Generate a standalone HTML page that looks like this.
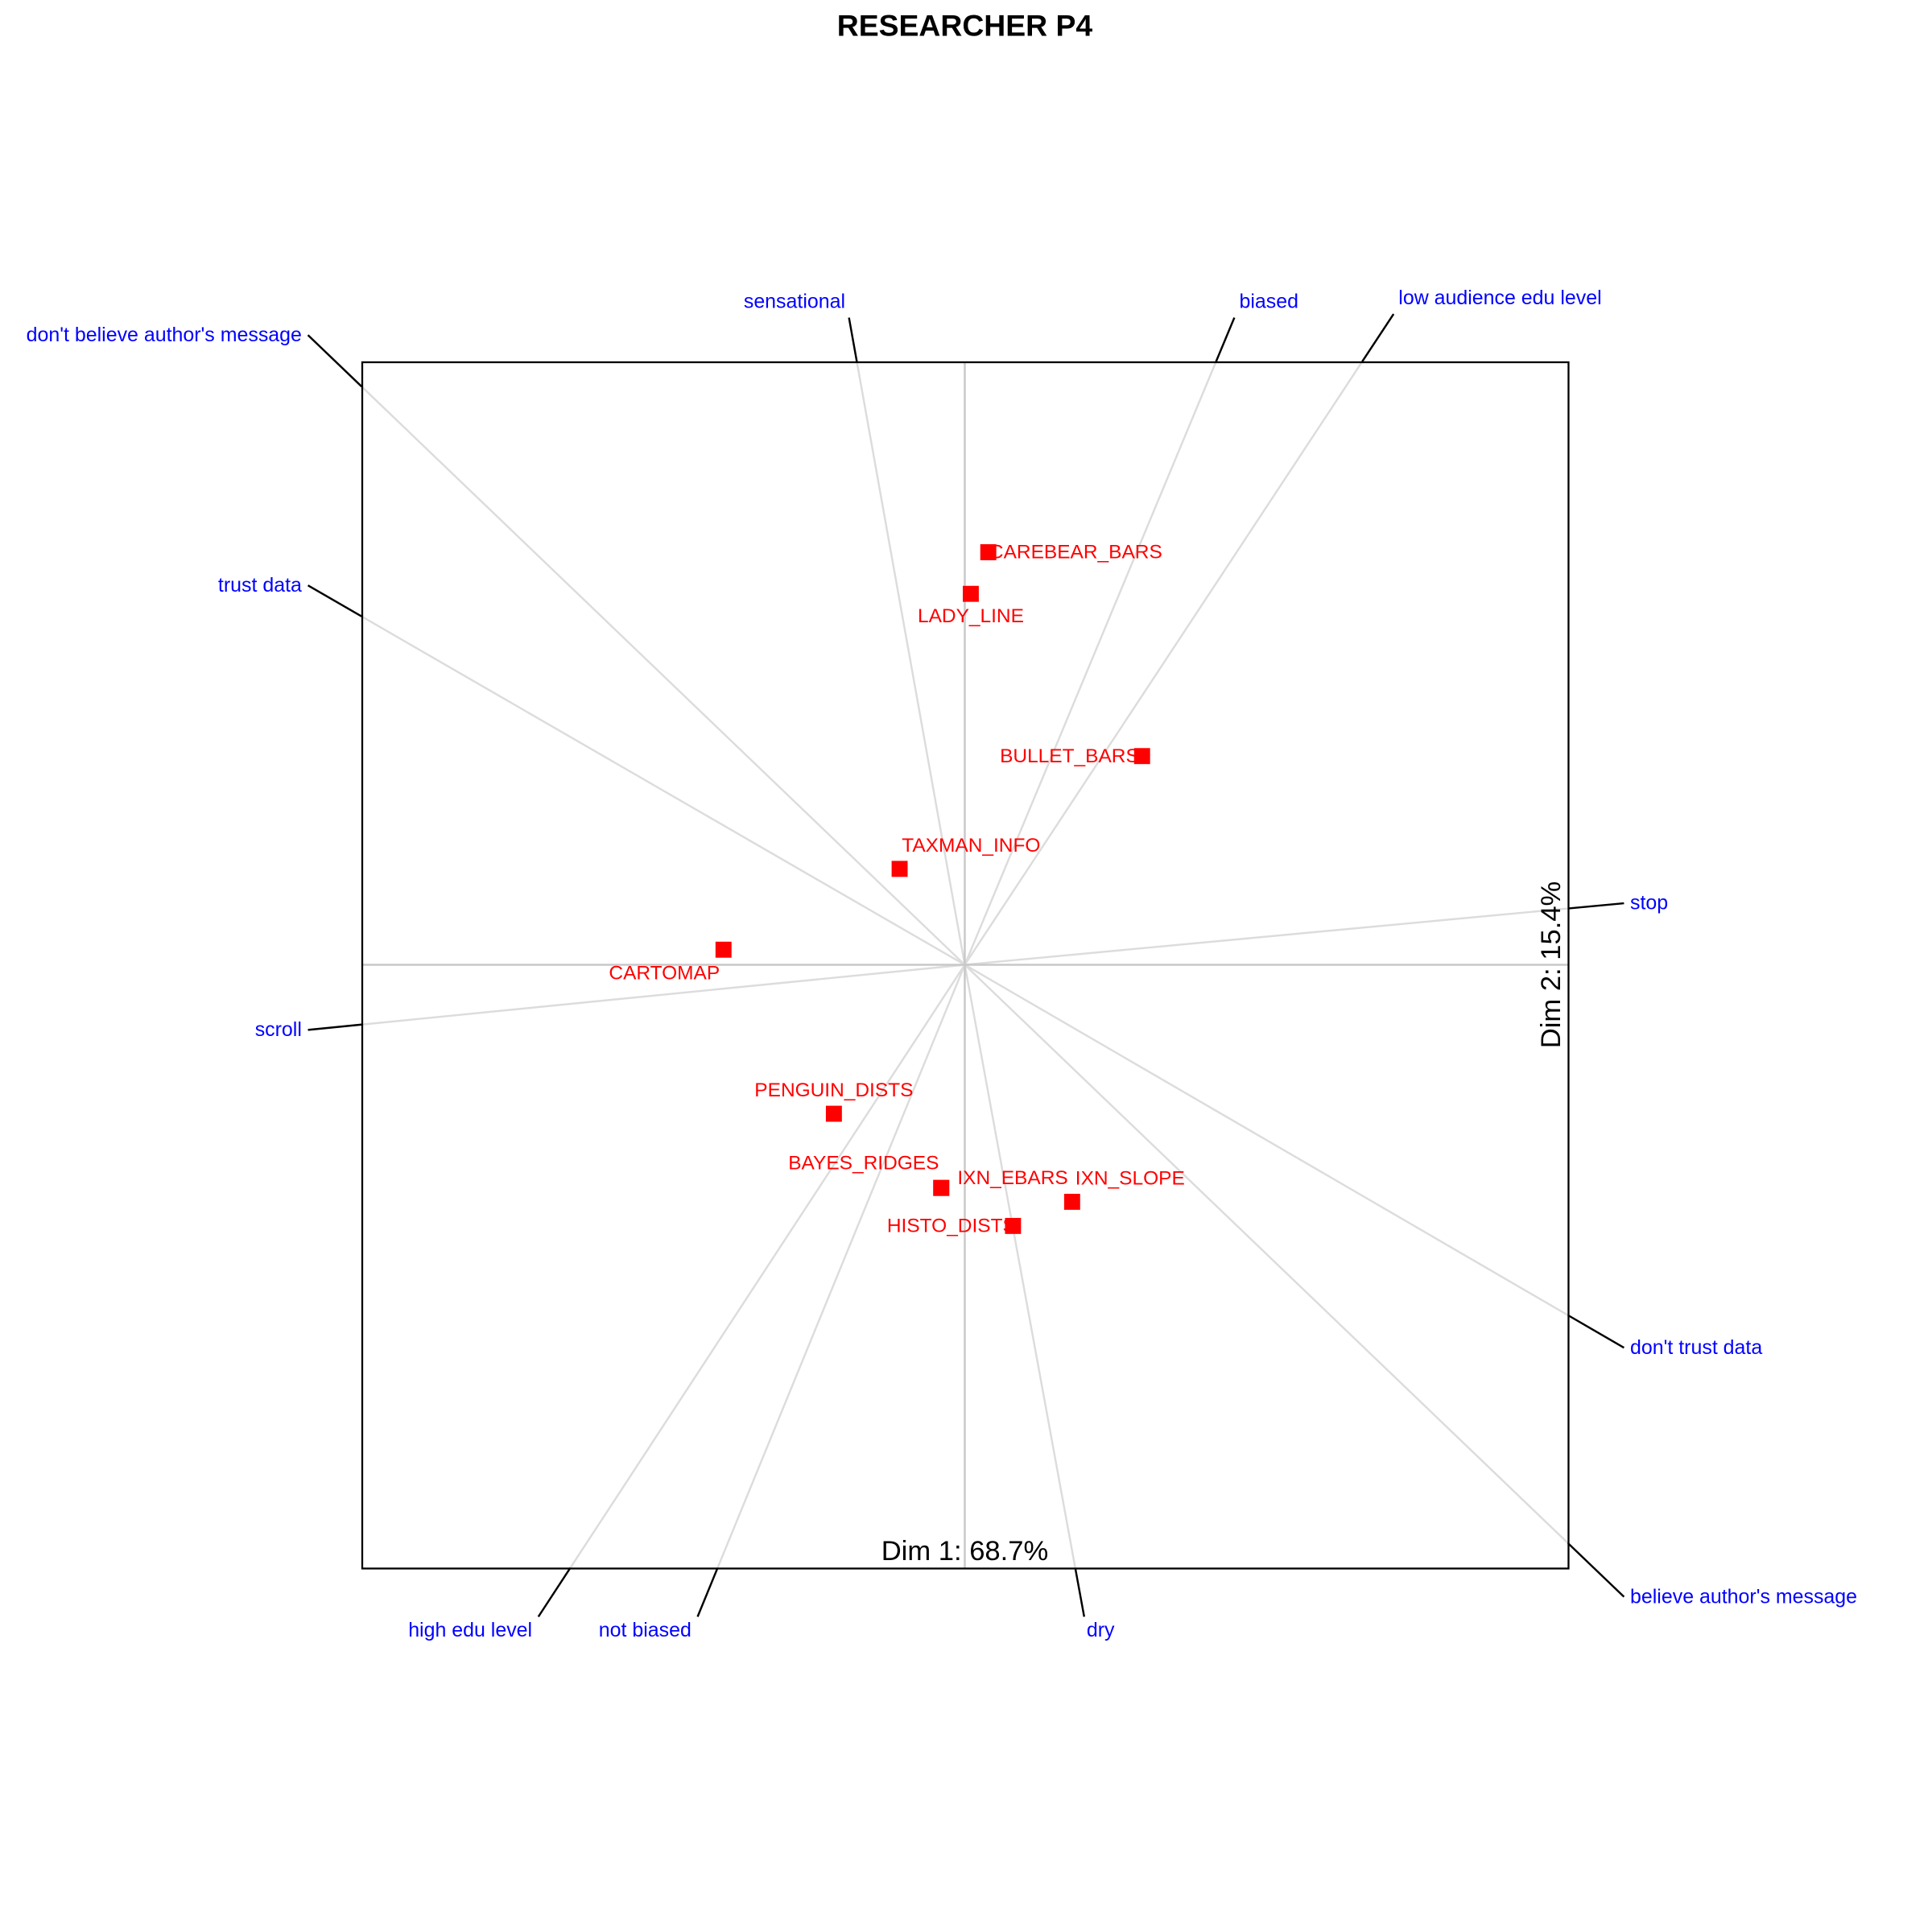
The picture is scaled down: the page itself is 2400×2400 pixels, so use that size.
<!DOCTYPE html>
<html><head><meta charset="utf-8"><style>
html,body{margin:0;padding:0;background:#fff}
svg{display:block}
text{font-family:"Liberation Sans",Arial,sans-serif}
</style></head><body>
<svg id="chart" width="2400" height="2400" viewBox="0 0 1568 1568" xmlns="http://www.w3.org/2000/svg">
<text x="783" y="29" text-anchor="middle" font-size="24.4" font-weight="bold">RESEARCHER P4</text>
<g id="arrows"></g>
<line x1="294" y1="783" x2="1273" y2="783" stroke="#c8c8c8" stroke-width="1.6"/>
<line x1="783" y1="294" x2="783" y2="1273" stroke="#c8c8c8" stroke-width="1.6"/>
<rect x="294" y="294" width="979" height="979" fill="none" stroke="#000" stroke-width="1.5"/>
<g id="points"></g>
<text x="783" y="1266" text-anchor="middle" font-size="22.6">Dim 1: 68.7%</text>
<text transform="translate(1266,783) rotate(-90)" text-anchor="middle" font-size="22.6">Dim 2: 15.4%</text>
</svg>
<script>
const pointNames = ["CAREBEAR_BARS","LADY_LINE","BULLET_BARS","TAXMAN_INFO","CARTOMAP","PENGUIN_DISTS","BAYES_RIDGES","IXN_EBARS","IXN_SLOPE","HISTO_DISTS"];
const pointX = [0.039,0.010,0.294,-0.108,-0.400,-0.217,-0.039,-0.039,0.178,0.080];
const pointY = [0.684,0.615,0.346,0.159,0.025,-0.247,-0.370,-0.370,-0.393,-0.433];
const varNames = ["don't believe author's message","sensational","biased","low audience edu level","trust data","stop","scroll","don't trust data","believe author's message","high edu level","not biased","dry"];
const varX = [-1.089,-0.192,0.447,0.711,-1.089,1.093,-1.089,1.093,1.093,-0.707,-0.443,0.198];
const varY = [1.044,1.073,1.073,1.079,0.629,0.102,-0.108,-0.635,-1.048,-1.081,-1.081,-1.081];

// label offsets (layout only)
const labelDX = [71,0,-59,58,-48,0,-63,58,47,-50];
const labelDY = [5,23,5,-14,24,-14,-15,-3,-14,5];

const CX=783, CY=783, S=489.5;
const sx = v => CX + v*S;
const sy = v => CY - v*S;
const NS="http://www.w3.org/2000/svg";
const arrows=document.getElementById('arrows');
const pts=document.getElementById('points');

for(let i=0;i<varNames.length;i++){
  const x=varX[i], y=varY[i];
  const t = Math.min(1/Math.abs(x||1e-9), 1/Math.abs(y||1e-9));
  const bx=x*t, by=y*t;
  const g=document.createElementNS(NS,'line');
  
  
  g.setAttribute('x1',CX);g.setAttribute('y1',CY);
  g.setAttribute('x2',sx(bx));g.setAttribute('y2',sy(by));
  g.setAttribute('stroke','#dcdcdc');g.setAttribute('stroke-width','1.6');
  arrows.appendChild(g);
  const b=document.createElementNS(NS,'line');
  
  
  b.setAttribute('x1',sx(bx));b.setAttribute('y1',sy(by));
  b.setAttribute('x2',sx(x));b.setAttribute('y2',sy(y));
  b.setAttribute('stroke','#000');b.setAttribute('stroke-width','1.6');
  arrows.appendChild(b);
  const tx=document.createElementNS(NS,'text');
  
  
  let lx, ly, anchor;
  if(Math.abs(x)>1){ lx=sx(x)+(x>0?5:-5); ly=sy(y)+5; anchor=x>0?'start':'end'; }
  else if(y>0){ lx=sx(x)+(x>0?4:-3); ly=sy(y)-8; anchor=x>0?'start':'end'; }
  else { lx=sx(x)+(x>0?2:-5); ly=sy(y)+16; anchor=x>0?'start':'end'; }
  tx.setAttribute('x',lx);tx.setAttribute('y',ly);
  tx.setAttribute('text-anchor',anchor);
  tx.setAttribute('font-size','16.3');tx.setAttribute('fill','#0000ff');
  tx.textContent=varNames[i];
  arrows.appendChild(tx);
}
for(let i=0;i<pointNames.length;i++){
  const r=document.createElementNS(NS,'rect');
  
  
  r.setAttribute('x',sx(pointX[i])-6.5);r.setAttribute('y',sy(pointY[i])-6.5);
  r.setAttribute('width',13);r.setAttribute('height',13);r.setAttribute('fill','#ff0000');
  pts.appendChild(r);
  const t=document.createElementNS(NS,'text');
  
  
  t.setAttribute('x',sx(pointX[i])+labelDX[i]);t.setAttribute('y',sy(pointY[i])+labelDY[i]);
  t.setAttribute('text-anchor','middle');t.setAttribute('font-size','16');t.setAttribute('fill','#ff0000');
  t.textContent=pointNames[i];
  pts.appendChild(t);
}
</script>
</body></html>
